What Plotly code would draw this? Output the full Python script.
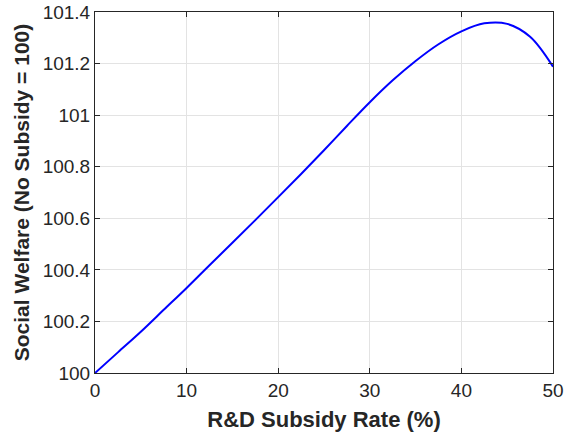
import plotly.graph_objects as go

subsidy_rate = [0, 2.5, 5, 7.5, 10, 12.5, 15, 17.5, 20, 22.5, 25, 27.5, 30, 32.5, 35,
                37.5, 40, 42.5, 45, 47.5, 50]
welfare = [100.0, 100.08, 100.16, 100.245, 100.33, 100.418, 100.505, 100.593, 100.682,
           100.772, 100.864, 100.958, 101.05, 101.135, 101.21, 101.275, 101.325,
           101.356, 101.354, 101.304, 101.188]

x_ticks = [0, 10, 20, 30, 40, 50]
y_ticks = [100, 100.2, 100.4, 100.6, 100.8, 101, 101.2, 101.4]
y_tick_labels = ["100", "100.2", "100.4", "100.6", "100.8", "101", "101.2", "101.4"]

font_family = "Liberation Sans, Arial, Helvetica, sans-serif"
ink = "#262626"

fig = go.Figure(go.Scatter(
    x=subsidy_rate, y=welfare, mode="lines",
    line=dict(color="#0000ff", width=2, shape="spline", smoothing=1),
    hoverinfo="skip",
))

axis_common = dict(
    showline=True, linecolor=ink, linewidth=1, mirror="ticks",
    ticks="inside", ticklen=5, tickcolor=ink, tickwidth=1,
    showgrid=True, gridcolor="#e3e3e3", gridwidth=1,
    zeroline=False, automargin=False, ticklabeloverflow="allow",
    tickfont=dict(family=font_family, size=19, color=ink),
)

fig.update_layout(
    width=568, height=433,
    margin=dict(l=95, r=15, t=12, b=60),
    paper_bgcolor="white", plot_bgcolor="white",
    showlegend=False,
    hovermode=False,
    xaxis=dict(
        range=[0, 50], tickvals=x_ticks,
        title=dict(text="<b>R&D Subsidy Rate (%)</b>", standoff=11,
                   font=dict(family=font_family, size=22, color=ink)),
        **axis_common,
    ),
    yaxis=dict(
        range=[100, 101.4], tickvals=y_ticks, ticktext=y_tick_labels,
        title=dict(text="<b>Social Welfare (No Subsidy = 100)</b>", standoff=7,
                   font=dict(family=font_family, size=21, color=ink)),
        **axis_common,
    ),
)

# Remove the browser's default 8px page margin so the figure fills the window.
fig.write_html("out.html",
               config={"displayModeBar": False},
               post_script="document.body.style.margin='0';document.body.style.padding='0';")
